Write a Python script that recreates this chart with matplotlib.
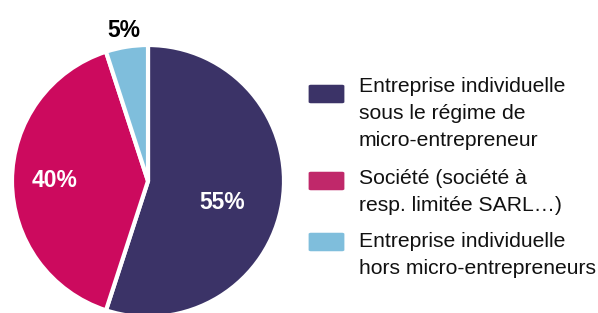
import numpy as np
import matplotlib
matplotlib.use("Agg")
import matplotlib.pyplot as plt
from matplotlib.patches import FancyBboxPatch

categories = ["Entreprise individuelle\nsous le régime de\nmicro-entrepreneur",
              "Société (société à\nresp. limitée SARL…)",
              "Entreprise individuelle\nhors micro-entrepreneurs"]
values = [55, 40, 5]
pct_labels = ["55%", "40%", "5%"]
pie_colors = ["#3B3367", "#CC0A5E", "#7FBEDC"]
legend_colors = ["#3B3367", "#C0286A", "#7FBEDC"]
label_dist = [0.57, 0.69, 1.12]
label_angle_shift = [-7, 0, 0]
label_colors = ["white", "white", "black"]

plt.rcParams['font.family'] = ['Liberation Sans', 'DejaVu Sans']

W, H = 598, 313
fig = plt.figure(figsize=(W / 100, H / 100), dpi=100)
cx, cy, r = 148, 181, 136
ax = fig.add_axes([(cx - r) / W, (H - cy - r) / H, 2 * r / W, 2 * r / H])
wedges, _ = ax.pie(values, colors=pie_colors, startangle=90, counterclock=False,
                   radius=1.0, wedgeprops=dict(edgecolor="white", linewidth=3))
ax.set_xlim(-1, 1)
ax.set_ylim(-1, 1)
ax.set_aspect("equal")
ax.axis("off")

for w, lab, d, sh, c in zip(wedges, pct_labels, label_dist, label_angle_shift, label_colors):
    ang = np.deg2rad((w.theta1 + w.theta2) / 2 + sh)
    ax.text(d * np.cos(ang), d * np.sin(ang), lab, ha="center", va="center",
            fontsize=16.5, fontweight="bold", color=c, clip_on=False)

# legend
patch_tops = [84, 171, 232]
first_baselines = [92, 184, 247]
line_step = 27
for cat, col, top, base in zip(categories, legend_colors, patch_tops, first_baselines):
    x0, x1 = 309, 344
    h = 20
    p = FancyBboxPatch(((x0 + 2) / W, (H - top - h + 2) / H), (x1 - x0 - 4) / W, (h - 4) / H,
                       boxstyle="round,pad=0.004", transform=fig.transFigure,
                       facecolor=col, edgecolor="none")
    fig.patches.append(p)
    for i, line in enumerate(cat.split("\n")):
        fig.text(359 / W, (H - base - i * line_step) / H, line, ha="left", va="baseline",
                 fontsize=15.2, color="#111111")

fig.savefig("out.png", dpi=100)
